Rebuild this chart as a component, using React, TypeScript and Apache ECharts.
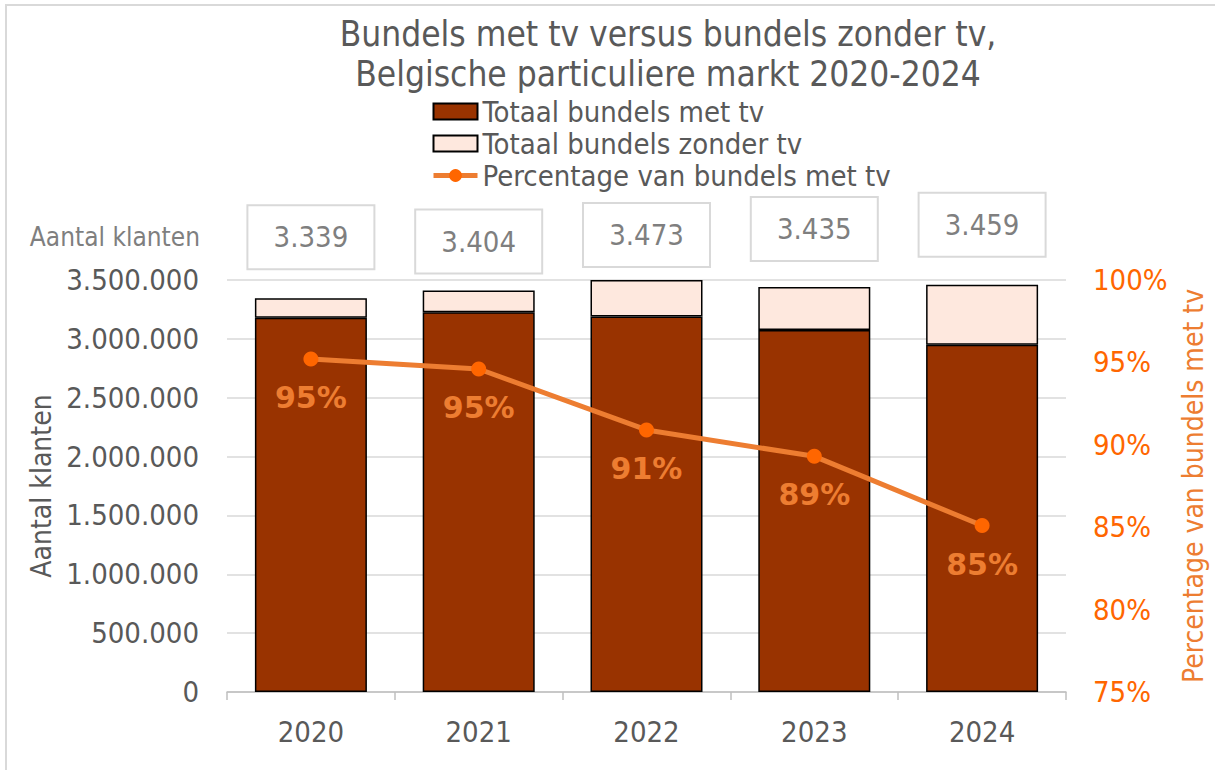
import React, { useEffect, useRef } from 'react';
import * as echarts from 'echarts';

// ---- Data ----
const years = ['2020', '2021', '2022', '2023', '2024'];
const bundlesWithTv = [3180000, 3225000, 3190000, 3075000, 2950000];
const bundlesWithoutTv = [165000, 185000, 310000, 365000, 510000];
const totalCustomersK = [3339, 3404, 3473, 3435, 3459]; // printed in the boxes (x 1000)
const pctWithTv = [95.2, 94.6, 90.9, 89.3, 85.1];

// ---- Styling constants (not data) ----
const boxDistance = [61, 49, 45, 58, 60];
const FONT = '"DejaVu Sans Condensed", "Liberation Sans", sans-serif';
const GREY = '#595959';
const LIGHTGREY = '#7f7f7f';
const ORANGE = '#ff6600';
const LINE_ORANGE = '#ed7d31';

const dots = (n: number) => String(Math.round(n)).replace(/\B(?=(\d{3})+(?!\d))/g, '.');

export default function App() {
  const ref = useRef<HTMLDivElement>(null);

  useEffect(() => {
    if (!ref.current) return;
    const chart = echarts.init(ref.current, undefined, { renderer: 'svg' });

    const option: any = {
      animation: false,
      backgroundColor: '#ffffff',
      textStyle: { fontFamily: FONT },
      graphic: [
        {
          type: 'rect',
          z: -10,
          shape: { x: 6, y: 5, width: 1230, height: 800 },
          style: { fill: 'none', stroke: '#d9d9d9', lineWidth: 2 },
        },
        {
          type: 'text',
          x: 668,
          y: 54,
          style: {
            text: 'Bundels met tv versus bundels zonder tv,\nBelgische particuliere markt 2020-2024',
            align: 'center',
            verticalAlign: 'middle',
            fontSize: 35,
            lineHeight: 40,
            fontFamily: FONT,
            fill: GREY,
          },
        },
        {
          type: 'text',
          x: 200,
          y: 237,
          style: {
            text: 'Aantal klanten',
            align: 'right',
            verticalAlign: 'middle',
            fontSize: 26,
            fontFamily: FONT,
            fill: LIGHTGREY,
          },
        },
      ],
      legend: {
        orient: 'vertical',
        left: 426,
        top: 92,
        itemWidth: 44,
        itemHeight: 16,
        itemGap: 3,
        lineStyle: { width: 5 },
        textStyle: { fontSize: 29, color: GREY, fontFamily: FONT },
        data: [
          { name: 'Totaal bundels met tv', icon: 'rect' },
          { name: 'Totaal bundels zonder tv', icon: 'rect' },
          { name: 'Percentage van bundels met tv' },
        ],
      },
      grid: { left: 227, right: 139, top: 280, bottom: 78 },
      xAxis: {
        type: 'category',
        data: years,
        axisLine: { lineStyle: { color: '#bfbfbf', width: 1.5 } },
        axisTick: { show: true, length: 8, lineStyle: { color: '#bfbfbf', width: 1.5 } },
        axisLabel: { fontSize: 29, color: GREY, margin: 25, fontFamily: FONT },
      },
      yAxis: [
        {
          type: 'value',
          min: 0,
          max: 3500000,
          interval: 500000,
          name: 'Aantal klanten',
          nameLocation: 'middle',
          nameRotate: 90,
          nameGap: 160,
          nameTextStyle: { fontSize: 28, color: GREY, fontFamily: FONT },
          axisLine: { show: false },
          axisTick: { show: false },
          axisLabel: { fontSize: 29, color: GREY, margin: 28, fontFamily: FONT, formatter: (v: number) => dots(v) },
          splitLine: { lineStyle: { color: '#d9d9d9', width: 1.5 } },
        },
        {
          type: 'value',
          min: 75,
          max: 100,
          interval: 5,
          position: 'right',
          name: 'Percentage van bundels met tv',
          nameLocation: 'middle',
          nameRotate: 90,
          nameGap: 113,
          nameTextStyle: { fontSize: 28, color: LINE_ORANGE, fontFamily: FONT },
          axisLine: { show: false },
          axisTick: { show: false },
          axisLabel: { fontSize: 29, color: ORANGE, margin: 27, fontFamily: FONT, formatter: '{value}%' },
          splitLine: { show: false },
        },
      ],
      series: [
        {
          name: 'Totaal bundels met tv',
          type: 'bar',
          stack: 'total',
          barWidth: 112,
          data: bundlesWithTv,
          itemStyle: { color: '#993300', borderColor: '#000000', borderWidth: 1.5 },
        },
        {
          name: 'Totaal bundels zonder tv',
          type: 'bar',
          stack: 'total',
          barWidth: 112,
          data: bundlesWithoutTv.map((v, i) => ({
            value: v,
            label: { distance: boxDistance[i] },
          })),
          itemStyle: { color: '#fee8de', borderColor: '#000000', borderWidth: 1.5 },
          label: {
            show: true,
            position: 'top',
            formatter: (p: any) => dots(totalCustomersK[p.dataIndex]),
            fontSize: 29,
            fontFamily: FONT,
            color: LIGHTGREY,
            width: 75,
            height: 30,
            lineHeight: 30,
            align: 'center',
            verticalAlign: 'middle',
            padding: [16, 25, 16, 25],
            borderColor: '#d9d9d9',
            borderWidth: 2,
            backgroundColor: '#ffffff',
          },
        },
        {
          name: 'Percentage van bundels met tv',
          type: 'line',
          yAxisIndex: 1,
          data: pctWithTv,
          symbol: 'circle',
          symbolSize: 15,
          lineStyle: { color: LINE_ORANGE, width: 5 },
          itemStyle: { color: ORANGE },
          z: 5,
          label: {
            show: true,
            position: 'bottom',
            distance: 16,
            formatter: (p: any) => Math.round(p.value) + '%',
            fontSize: 30,
            fontWeight: 'bold',
            fontFamily: '"DejaVu Sans", sans-serif',
            color: LINE_ORANGE,
          },
        },
      ],
    };

    chart.setOption(option);
    return () => chart.dispose();
  }, []);

  return (
    <div
      ref={ref}
      style={{ position: 'absolute', left: 0, top: 0, width: 1215, height: 770, background: '#fff' }}
    />
  );
}
